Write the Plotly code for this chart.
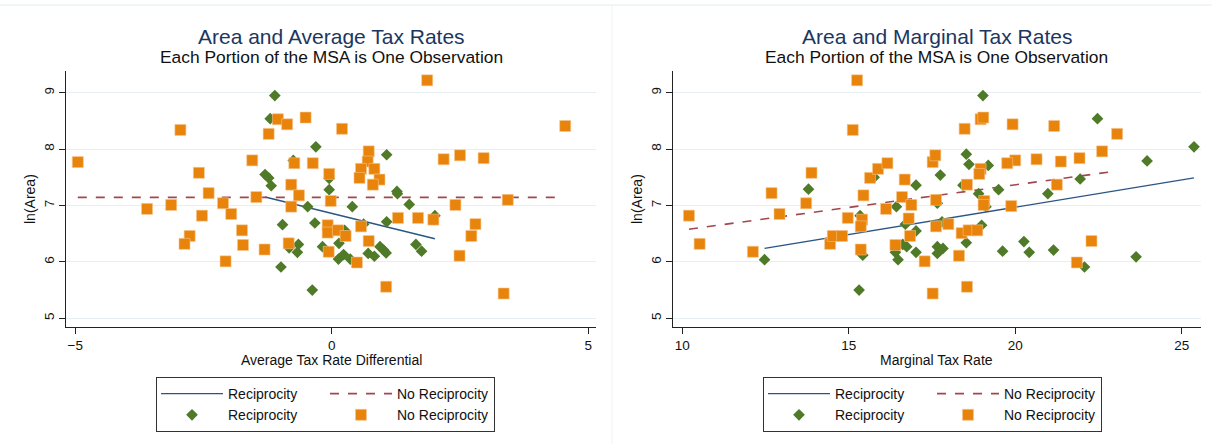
import plotly.graph_objects as go

# ---------------- data ----------------
# Left panel: Average tax rate differential vs ln(Area)
avg_recip_x = [-1.11, -1.20, -1.30, -1.23, -1.18, -0.75, -0.31, -0.47, -0.33, -0.96,
               -0.83, -0.65, -0.67, -0.99, -0.38, -0.18, -0.05, -0.05, 1.07, 1.27,
               1.28, 1.51, 2.01, 1.07, 0.62, 0.40, 0.25, 0.14, 0.13, 0.23,
               0.36, 0.71, 0.83, 0.94, 1.01, 1.06, 1.64, 1.75]
avg_recip_y = [8.95, 8.54, 7.55, 7.49, 7.35, 7.80, 8.04, 6.98, 6.69, 6.66,
               6.25, 6.31, 6.17, 5.91, 5.50, 6.27, 7.28, 7.48, 7.90, 7.25,
               7.21, 7.02, 6.82, 6.71, 6.67, 6.98, 6.56, 6.33, 6.05, 6.13,
               6.05, 6.15, 6.10, 6.27, 6.21, 6.16, 6.31, 6.19]

avg_norecip_x = [-4.95, -2.95, -3.60, -3.13, -2.59, -2.40, -2.53, -2.12, -1.96, -2.77,
                 -2.87, -1.75, -1.73, -2.07, -1.55, -1.47, -1.31, -1.23, -1.05, -0.87,
                 -0.51, -0.73, -0.37, -0.79, -0.64, -0.79, -0.84, -0.05, -0.02, -0.08,
                 -0.08, -0.06, 1.86, 0.20, 0.72, 0.70, 0.57, 0.83, 0.54, 0.93,
                 0.80, 4.55, 2.18, 2.50, 2.96, 3.43, 2.41, 1.29, 1.68, 1.98,
                 2.80, 2.72, 2.49, 3.35, 1.06, 0.49, 0.72, 0.57, 0.12, 0.27]
avg_norecip_y = [7.77, 8.34, 6.94, 7.01, 7.58, 7.22, 6.82, 7.04, 6.85, 6.46,
                 6.32, 6.56, 6.30, 6.01, 7.80, 7.15, 6.22, 8.27, 8.53, 8.44,
                 8.56, 7.75, 7.75, 7.37, 7.18, 6.98, 6.33, 7.56, 7.08, 6.65,
                 6.52, 6.18, 9.22, 8.36, 7.96, 7.78, 7.65, 7.65, 7.49, 7.46,
                 7.37, 8.41, 7.82, 7.89, 7.84, 7.10, 7.01, 6.78, 6.78, 6.75,
                 6.67, 6.46, 6.11, 5.44, 5.56, 5.99, 6.37, 6.63, 6.56, 6.46]

avg_fit_recip_x = [-1.30, 2.01]
avg_fit_recip_y = [7.15, 6.41]
avg_fit_norecip_x = [-4.95, 4.52]
avg_fit_norecip_y = [7.145, 7.145]

# Right panel: Marginal tax rate vs ln(Area)
mtr_recip_x = [12.47, 13.79, 15.34, 15.42, 15.31, 15.76, 16.43, 17.02, 16.70, 17.02,
               16.62, 16.74, 16.40, 16.48, 17.02, 19.03, 22.47, 25.37, 23.96, 18.53,
               18.61, 19.19, 17.75, 18.43, 19.50, 18.90, 20.98, 21.95, 17.66, 19.12,
               17.80, 18.99, 18.53, 20.26, 17.66, 17.83, 17.66, 19.62, 20.42, 21.15,
               23.63, 22.08]
mtr_recip_y = [6.04, 7.29, 6.82, 6.12, 5.50, 7.50, 6.98, 7.36, 6.67, 6.55,
               6.31, 6.27, 6.17, 6.04, 6.17, 8.95, 8.54, 8.04, 7.79, 7.91,
               7.73, 7.71, 7.54, 7.36, 7.28, 7.21, 7.21, 7.47, 7.04, 6.98,
               6.71, 6.65, 6.34, 6.36, 6.27, 6.24, 6.15, 6.19, 6.17, 6.21,
               6.09, 5.91]

mtr_norecip_x = [15.25, 15.12, 10.20, 10.52, 12.12, 12.68, 12.92, 13.72, 13.88, 14.44,
                 14.52, 14.80, 14.97, 15.40, 15.36, 15.44, 15.36, 15.64, 15.88, 16.16,
                 16.12, 16.40, 16.60, 16.68, 16.80, 16.88, 16.84, 17.28, 17.52, 17.52,
                 17.60, 17.62, 17.62, 18.48, 18.96, 19.04, 19.92, 21.17, 23.06, 22.61,
                 21.93, 21.37, 20.64, 20.00, 19.76, 18.96, 18.92, 18.55, 21.25, 19.07,
                 19.05, 19.88, 17.99, 18.39, 18.60, 18.86, 22.29, 18.31, 21.85, 18.55]
mtr_norecip_y = [9.22, 8.34, 6.82, 6.32, 6.18, 7.22, 6.85, 7.04, 7.58, 6.32,
                 6.46, 6.46, 6.78, 6.75, 6.63, 7.18, 6.22, 7.49, 7.65, 7.75,
                 6.94, 6.30, 7.15, 7.46, 6.77, 7.01, 6.46, 6.01, 5.44, 7.77,
                 7.89, 7.10, 6.63, 8.36, 8.53, 8.56, 8.44, 8.41, 8.27, 7.96,
                 7.84, 7.78, 7.82, 7.80, 7.75, 7.65, 7.56, 7.37, 7.37, 7.08,
                 7.01, 6.99, 6.67, 6.51, 6.56, 6.56, 6.37, 6.11, 5.99, 5.56]

mtr_fit_recip_x = [12.47, 25.37]
mtr_fit_recip_y = [6.24, 7.49]
mtr_fit_norecip_x = [10.20, 23.03]
mtr_fit_norecip_y = [6.58, 7.61]

titles = ["Area and Average Tax Rates", "Area and Marginal Tax Rates"]
subtitle = "Each Portion of the MSA is One Observation"
x_titles = ["Average Tax Rate Differential", "Marginal Tax Rate"]
y_title = "ln(Area)"
lbl_recip = "Reciprocity"
lbl_norecip = "No Reciprocity"

# ---------------- styling ----------------
FONT = "Liberation Sans, Arial, sans-serif"
W, H = 1212, 444
C_LINE_R = "#2a5585"
C_LINE_N = "#a3464e"
C_GREEN = "#4f7a28"
C_ORANGE = "#e8830b"
TITLE_C = "#1c3660"

fig = go.Figure()

panels = [
    dict(xa="x", ya="y", leg="legend",
         fr=(avg_fit_recip_x, avg_fit_recip_y), fn=(avg_fit_norecip_x, avg_fit_norecip_y),
         r=(avg_recip_x, avg_recip_y), n=(avg_norecip_x, avg_norecip_y), g="a"),
    dict(xa="x2", ya="y2", leg="legend2",
         fr=(mtr_fit_recip_x, mtr_fit_recip_y), fn=(mtr_fit_norecip_x, mtr_fit_norecip_y),
         r=(mtr_recip_x, mtr_recip_y), n=(mtr_norecip_x, mtr_norecip_y), g="b"),
]

for p in panels:
    fig.add_trace(go.Scatter(x=p["fr"][0], y=p["fr"][1], mode="lines", name=lbl_recip,
                             line=dict(color=C_LINE_R, width=1.4), xaxis=p["xa"], yaxis=p["ya"],
                             legend=p["leg"], legendgroup=p["g"] + "1"))
    fig.add_trace(go.Scatter(x=p["fn"][0], y=p["fn"][1], mode="lines", name=lbl_norecip,
                             line=dict(color=C_LINE_N, width=1.6, dash="dash"),
                             xaxis=p["xa"], yaxis=p["ya"], legend=p["leg"], legendgroup=p["g"] + "2"))
    fig.add_trace(go.Scatter(x=p["r"][0], y=p["r"][1], mode="markers", name=lbl_recip,
                             marker=dict(symbol="diamond", size=9, color=C_GREEN,
                                         line=dict(width=0)),
                             xaxis=p["xa"], yaxis=p["ya"], legend=p["leg"], legendgroup=p["g"] + "1"))
    fig.add_trace(go.Scatter(x=p["n"][0], y=p["n"][1], mode="markers", name=lbl_norecip,
                             marker=dict(symbol="square", size=11, color=C_ORANGE,
                                         line=dict(width=0.6, color="#f6c58a")),
                             xaxis=p["xa"], yaxis=p["ya"], legend=p["leg"], legendgroup=p["g"] + "2"))

ydom = [1 - 327 / H, 1 - 71 / H]
xdoms = [[66 / W, 596 / W], [673 / W, 1201 / W]]
xranges = [[-5.18, 5.15], [9.72, 25.58]]
xticks = [[-5, 0, 5], [10, 15, 20, 25]]

axis_common = dict(showline=True, linecolor="#222", linewidth=1.2, ticks="outside",
                   ticklen=6, tickcolor="#222", tickwidth=1.2, zeroline=False,
                   automargin=False,
                   tickfont=dict(size=13.5, color="#111", family=FONT))

for i in range(2):
    sfx = "" if i == 0 else str(i + 1)
    fig.layout["xaxis" + sfx] = dict(
        domain=xdoms[i], range=xranges[i], tickvals=xticks[i], showgrid=False,
        anchor="y" + sfx, **axis_common)
    fig.layout["yaxis" + sfx] = dict(
        domain=ydom, range=[4.846, 9.385], tickvals=[5, 6, 7, 8, 9], showgrid=True,
        gridcolor="#e6eff1", gridwidth=1, tickangle=-90, anchor="x" + sfx, **axis_common)

annotations = []
ycx = [30, 637]
for i in range(2):
    cx = (xdoms[i][0] + xdoms[i][1]) / 2
    annotations.append(dict(text=titles[i], x=cx, y=1 - 36 / H, xref="paper", yref="paper",
                            xanchor="center", yanchor="middle", showarrow=False,
                            font=dict(size=21, color=TITLE_C, family=FONT)))
    annotations.append(dict(text=subtitle, x=cx, y=1 - 57.5 / H, xref="paper", yref="paper",
                            xanchor="center", yanchor="middle", showarrow=False,
                            font=dict(size=17.4, color="#111", family=FONT)))
    # axis titles
    annotations.append(dict(text=x_titles[i], x=cx, y=1 - 360 / H, xref="paper", yref="paper",
                            xanchor="center", yanchor="middle", showarrow=False,
                            font=dict(size=14, color="#111", family=FONT)))
    annotations.append(dict(text=y_title, x=ycx[i] / W, y=(ydom[0] + ydom[1]) / 2,
                            xref="paper", yref="paper", textangle=-90,
                            xanchor="center", yanchor="middle", showarrow=False,
                            font=dict(size=14, color="#111", family=FONT)))

legend_common = dict(orientation="h", traceorder="grouped", xanchor="left", yanchor="top",
                     bordercolor="#333", borderwidth=1, bgcolor="white",
                     font=dict(size=14, color="#111", family=FONT),
                     itemwidth=62, entrywidth=92, tracegroupgap=0)

fig.update_layout(
    width=W, height=H, margin=dict(l=0, r=0, t=0, b=0, autoexpand=False),
    paper_bgcolor="white", plot_bgcolor="white",
    font=dict(family=FONT, color="#111"),
    annotations=annotations,
    legend=dict(x=156 / W, y=1 - 377 / H, **legend_common),
    legend2=dict(x=763 / W, y=1 - 377 / H, **legend_common),
    shapes=[
        dict(type="line", xref="paper", yref="paper", x0=0, x1=1, y0=1 - 5 / H, y1=1 - 5 / H,
             line=dict(color="#e3ecef", width=1)),
        dict(type="line", xref="paper", yref="paper", x0=612 / W, x1=612 / W, y0=0, y1=1 - 5 / H,
             line=dict(color="#f0f3f4", width=1)),
    ],
)

fig.write_html("out.html", config={"displayModeBar": False},
               post_script="document.body.style.margin='0';")
